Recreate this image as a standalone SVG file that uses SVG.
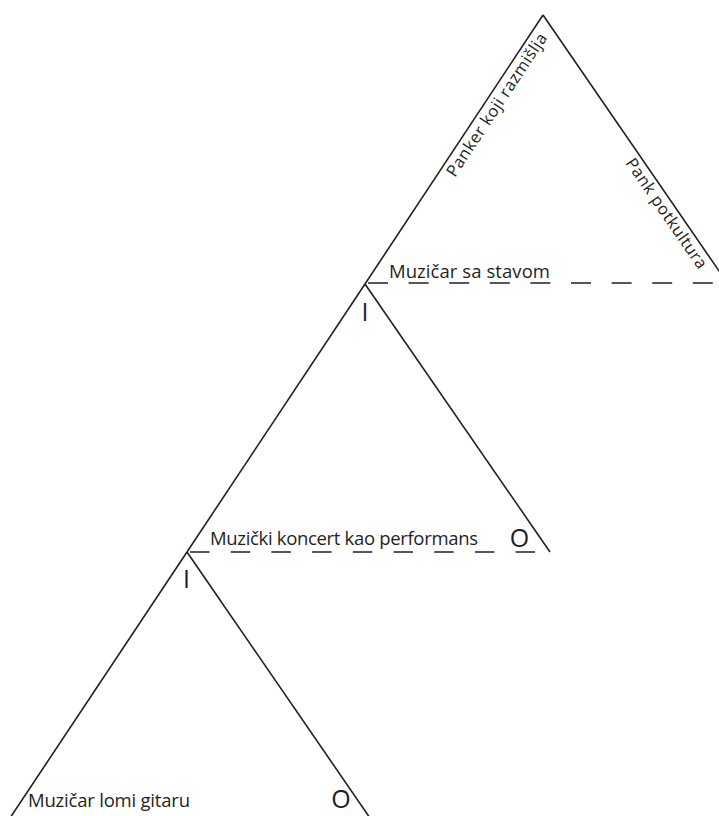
<svg xmlns="http://www.w3.org/2000/svg" width="719" height="816" viewBox="0 0 719 816">
<style>
.ln{stroke:#231f20;stroke-width:1.6;fill:none;stroke-linecap:butt}
.dash{stroke:#231f20;stroke-width:1.6;fill:none}
.t{font-family:"Open Sans","Noto Sans","Liberation Sans",sans-serif;font-size:18.5px;fill:#231f20}
.r{font-family:"Open Sans","Noto Sans","Liberation Sans",sans-serif;font-size:16.5px;fill:#231f20}
.big{font-family:"Open Sans","Noto Sans","Liberation Sans",sans-serif;font-size:25px;fill:#231f20}
</style>
<rect width="719" height="816" fill="#fff"/>
<g id="tri-top">
<line class="ln" x1="543" y1="15" x2="365" y2="284"/>
<line class="ln" x1="543" y1="15" x2="728" y2="284"/>
<text class="r" transform="translate(455,178) rotate(-56.5)" textLength="168" lengthAdjust="spacing">Panker koji razmišlja</text>
<text class="r" transform="translate(625,163) rotate(55.5)" textLength="130" lengthAdjust="spacing">Pank potkultura</text>
</g>
<g id="tri-mid">
<line class="ln" x1="365" y1="284" x2="187" y2="552"/>
<line class="ln" x1="365" y1="284" x2="550" y2="552"/>
<text class="t" x="389" y="278" textLength="161" lengthAdjust="spacing">Muzičar sa stavom</text>
<text class="big" x="365" y="321" text-anchor="middle">I</text>
<text class="big" x="519.5" y="547" text-anchor="middle">O</text>
</g>
<g id="tri-bottom">
<line class="ln" x1="187" y1="552" x2="10" y2="818"/>
<line class="ln" x1="187" y1="552" x2="370" y2="818"/>
<text class="t" x="210" y="545" textLength="268" lengthAdjust="spacing">Muzički koncert kao performans</text>
<text class="big" x="186.5" y="588" text-anchor="middle">I</text>
<text class="t" x="28" y="807" textLength="162" lengthAdjust="spacing">Muzičar lomi gitaru</text>
<text class="big" x="341" y="808" text-anchor="middle">O</text>
</g>
<g id="connectors">
<line class="dash" x1="368" y1="283" x2="719" y2="283" stroke-dasharray="20 20.6"/>
<line class="dash" x1="190" y1="552" x2="535" y2="552" stroke-dasharray="19.5 21.2"/>
</g>
</svg>
